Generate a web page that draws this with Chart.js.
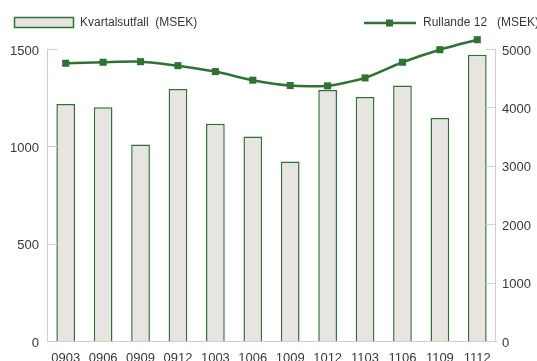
<!DOCTYPE html>
<html>
<head>
<meta charset="utf-8">
<script src="https://cdn.jsdelivr.net/npm/chart.js@4/dist/chart.umd.min.js"></script>
<style>
  body { margin: 0; background: #fff; }
</style>
</head>
<body>
<canvas id="chart" width="537" height="361"></canvas>
<script>
// data
var quarters = ['0903', '0906', '0909', '0912', '1003', '1006', '1009', '1012', '1103', '1106', '1109', '1112'];
var kvartal = [1218, 1201, 1009, 1294, 1116, 1050, 922, 1290, 1253, 1312, 1145, 1470];
var rullande = [4756, 4773, 4783, 4715, 4613, 4466, 4374, 4369, 4505, 4773, 4988, 5159];
var leftTicks = [0, 500, 1000, 1500];
var rightTicks = [0, 1000, 2000, 3000, 4000, 5000];

var green = '#2f7233';
var barFill = '#e8e4e1';
var axisGray = '#d5cdcd';
var textGray = '#383838';
var font = { family: 'Liberation Sans, Arial, sans-serif', size: 13 };
var legendFont = '12px Liberation Sans, Arial, sans-serif';
// a little head room above the top ticks so the last line point is not cut
var headRoom = 1.0445;

// axis lines that stop at the top tick, plus small inward tick marks
var axisLines = {
    id: 'axisLines',
    afterDraw: function(chart) {
        var ctx = chart.ctx;
        var y = chart.scales.y, y1 = chart.scales.y1;
        var bottom = chart.chartArea.bottom;
        ctx.save();
        ctx.strokeStyle = axisGray;
        ctx.lineWidth = 1;
        var xl = Math.round(y.right) + 0.5, xr = Math.round(y1.left) - 0.5;
        ctx.beginPath();
        ctx.moveTo(xl, y.getPixelForValue(leftTicks[leftTicks.length - 1]));
        ctx.lineTo(xl, bottom);
        ctx.moveTo(xr, y1.getPixelForValue(rightTicks[rightTicks.length - 1]));
        ctx.lineTo(xr, bottom);
        ctx.stroke();
        leftTicks.forEach(function(v) {
            if (v === 0) return;
            var p = Math.round(y.getPixelForValue(v)) + 0.5;
            ctx.beginPath(); ctx.moveTo(xl, p); ctx.lineTo(xl + 10, p); ctx.stroke();
        });
        rightTicks.forEach(function(v) {
            if (v === 0) return;
            var p = Math.round(y1.getPixelForValue(v)) + 0.5;
            ctx.beginPath(); ctx.moveTo(xr - 10, p); ctx.lineTo(xr, p); ctx.stroke();
        });
        ctx.restore();
    }
};

// legend split in two: bar item at left, line item at right
var splitLegend = {
    id: 'splitLegend',
    afterDraw: function(chart) {
        var ctx = chart.ctx;
        var ds = chart.data.datasets;
        ctx.save();
        ctx.font = legendFont;
        ctx.textBaseline = 'middle';

        ctx.fillStyle = ds[0].backgroundColor;
        ctx.fillRect(14, 17, 60, 11);
        ctx.strokeStyle = ds[0].borderColor;
        ctx.lineWidth = 1.5;
        ctx.strokeRect(14.5, 17.5, 59, 10);
        ctx.fillStyle = textGray;
        ctx.fillText(ds[0].label, 80, 23);

        ctx.strokeStyle = ds[1].borderColor;
        ctx.lineWidth = 2.5;
        ctx.beginPath(); ctx.moveTo(364, 23); ctx.lineTo(416, 23); ctx.stroke();
        ctx.fillStyle = ds[1].backgroundColor;
        ctx.fillRect(386, 19.5, 7, 7);
        ctx.fillStyle = textGray;
        ctx.fillText(ds[1].label, 423, 23);
        ctx.restore();
    }
};

function plain(v) { return String(v); }

var ctx = document.getElementById('chart');

var data = {
    labels: quarters,
    datasets: [{
        type: 'bar',
        label: 'Kvartalsutfall  (MSEK)',
        data: kvartal,
        yAxisID: 'y',
        backgroundColor: barFill,
        borderColor: green,
        borderWidth: 1.5,
        barPercentage: 0.5,
        categoryPercentage: 1.0,
        order: 2
    }, {
        type: 'line',
        label: 'Rullande 12   (MSEK)',
        data: rullande,
        yAxisID: 'y1',
        borderColor: green,
        backgroundColor: green,
        borderWidth: 2.5,
        pointStyle: 'rect',
        pointRadius: 5,
        pointBorderWidth: 0,
        tension: 0.22,
        clip: false,
        order: 1
    }]
};

var options = {
    responsive: false,
    animation: false,
    layout: { padding: { top: 36, left: 0, right: 0, bottom: 0 } },
    plugins: {
        legend: { display: false },
        tooltip: { enabled: false }
    },
    scales: {
        x: {
            grid: { display: false, drawTicks: false },
            border: { display: true, color: axisGray, width: 1 },
            ticks: { color: textGray, font: font, padding: 10, maxRotation: 0, autoSkip: false },
            afterFit: function(s) { s.height = 20; }
        },
        y: {
            position: 'left',
            min: 0, max: 1500 * headRoom,
            afterBuildTicks: function(s) { s.ticks = leftTicks.map(function(v) { return { value: v }; }); },
            grid: { display: false, drawTicks: false },
            border: { display: false },
            ticks: { color: textGray, font: font, padding: 8, labelOffset: 2, callback: plain },
            afterFit: function(s) { s.width = 47; }
        },
        y1: {
            position: 'right',
            min: 0, max: 5000 * headRoom,
            afterBuildTicks: function(s) { s.ticks = rightTicks.map(function(v) { return { value: v }; }); },
            grid: { display: false, drawTicks: false },
            border: { display: false },
            ticks: { color: textGray, font: font, padding: 6, labelOffset: 2, callback: plain },
            afterFit: function(s) { s.width = 41; }
        }
    }
};

var myChart = new Chart(ctx, {
    data: data,
    options: options,
    plugins: [axisLines, splitLegend]
});
</script>
</body>
</html>
